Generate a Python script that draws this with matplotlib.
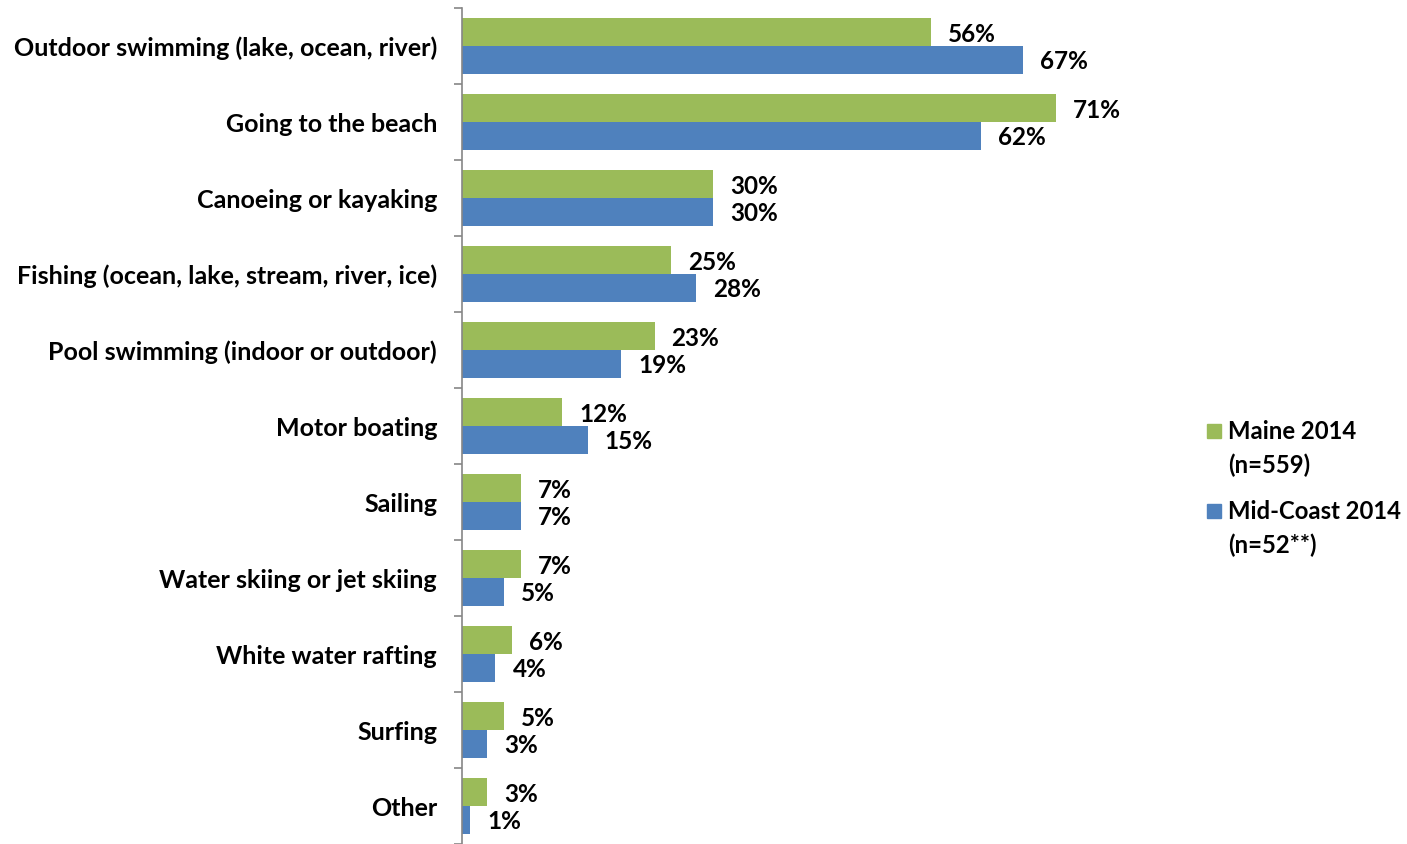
import numpy as np
import matplotlib.pyplot as plt
from matplotlib.patches import Rectangle

plt.rcParams['font.family'] = ['Lato', 'DejaVu Sans']
plt.rcParams['font.weight'] = 'bold'

# Water activities, share of respondents (%)
categories = ['Outdoor swimming (lake, ocean, river)', 'Going to the beach',
              'Canoeing or kayaking', 'Fishing (ocean, lake, stream, river, ice)',
              'Pool swimming (indoor or outdoor)', 'Motor boating', 'Sailing',
              'Water skiing or jet skiing', 'White water rafting', 'Surfing', 'Other']
maine = [56, 71, 30, 25, 23, 12, 7, 7, 6, 5, 3]
midcoast = [67, 62, 30, 28, 19, 15, 7, 5, 4, 3, 1]
series_names = ['Maine 2014\n(n=559)', 'Mid-Coast 2014\n(n=52**)']

green = '#9BBB59'
blue = '#4F81BD'
W, H = 1407, 844

fig = plt.figure(figsize=(W / 100, H / 100), dpi=100)
ax = fig.add_axes([462 / W, 0.0, 80 * 8.37 / W, 1 - 8 / H])

y = np.arange(len(categories))
h = 0.368
b1 = ax.barh(y - h / 2, maine, height=h, color=green)
b2 = ax.barh(y + h / 2, midcoast, height=h, color=blue)

for bars, vals in ((b1, maine), (b2, midcoast)):
    for bar, v in zip(bars, vals):
        ax.annotate(f'{v}%', (v, bar.get_y() + bar.get_height() / 2),
                    xytext=(17, -2), textcoords='offset pixels',
                    ha='left', va='center', fontsize=17.5, fontweight='bold')

ax.set_xlim(0, 80)
ax.set_ylim(len(categories) - 0.5, -0.5)
ax.set_yticks(np.arange(len(categories) + 1) - 0.5)
ax.set_yticklabels([])
ax.set_yticks(y, minor=True)
ax.set_yticklabels(categories, minor=True, fontsize=18, fontweight='bold')
ax.tick_params(axis='y', which='major', length=6, width=1.2, color='#868686')
ax.tick_params(axis='y', which='minor', length=0, pad=18)
ax.set_xticks([])

for side in ('top', 'right', 'bottom'):
    ax.spines[side].set_visible(False)
ax.spines['left'].set_color('#868686')
ax.spines['left'].set_linewidth(1.2)

# legend: small square beside the first line of each two-line label
for (label, color), ytop in zip(zip(series_names, (green, blue)), (431, 511)):
    fig.patches.append(Rectangle((1207 / W, 1 - (ytop + 7) / H), 14 / W, 14 / H,
                                 transform=fig.transFigure, color=color))
    fig.text(1228 / W, 1 - (ytop - 11) / H, label, ha='left', va='top',
             fontsize=17.2, fontweight='bold', linespacing=1.55)

fig.savefig('out.png', dpi=100)
